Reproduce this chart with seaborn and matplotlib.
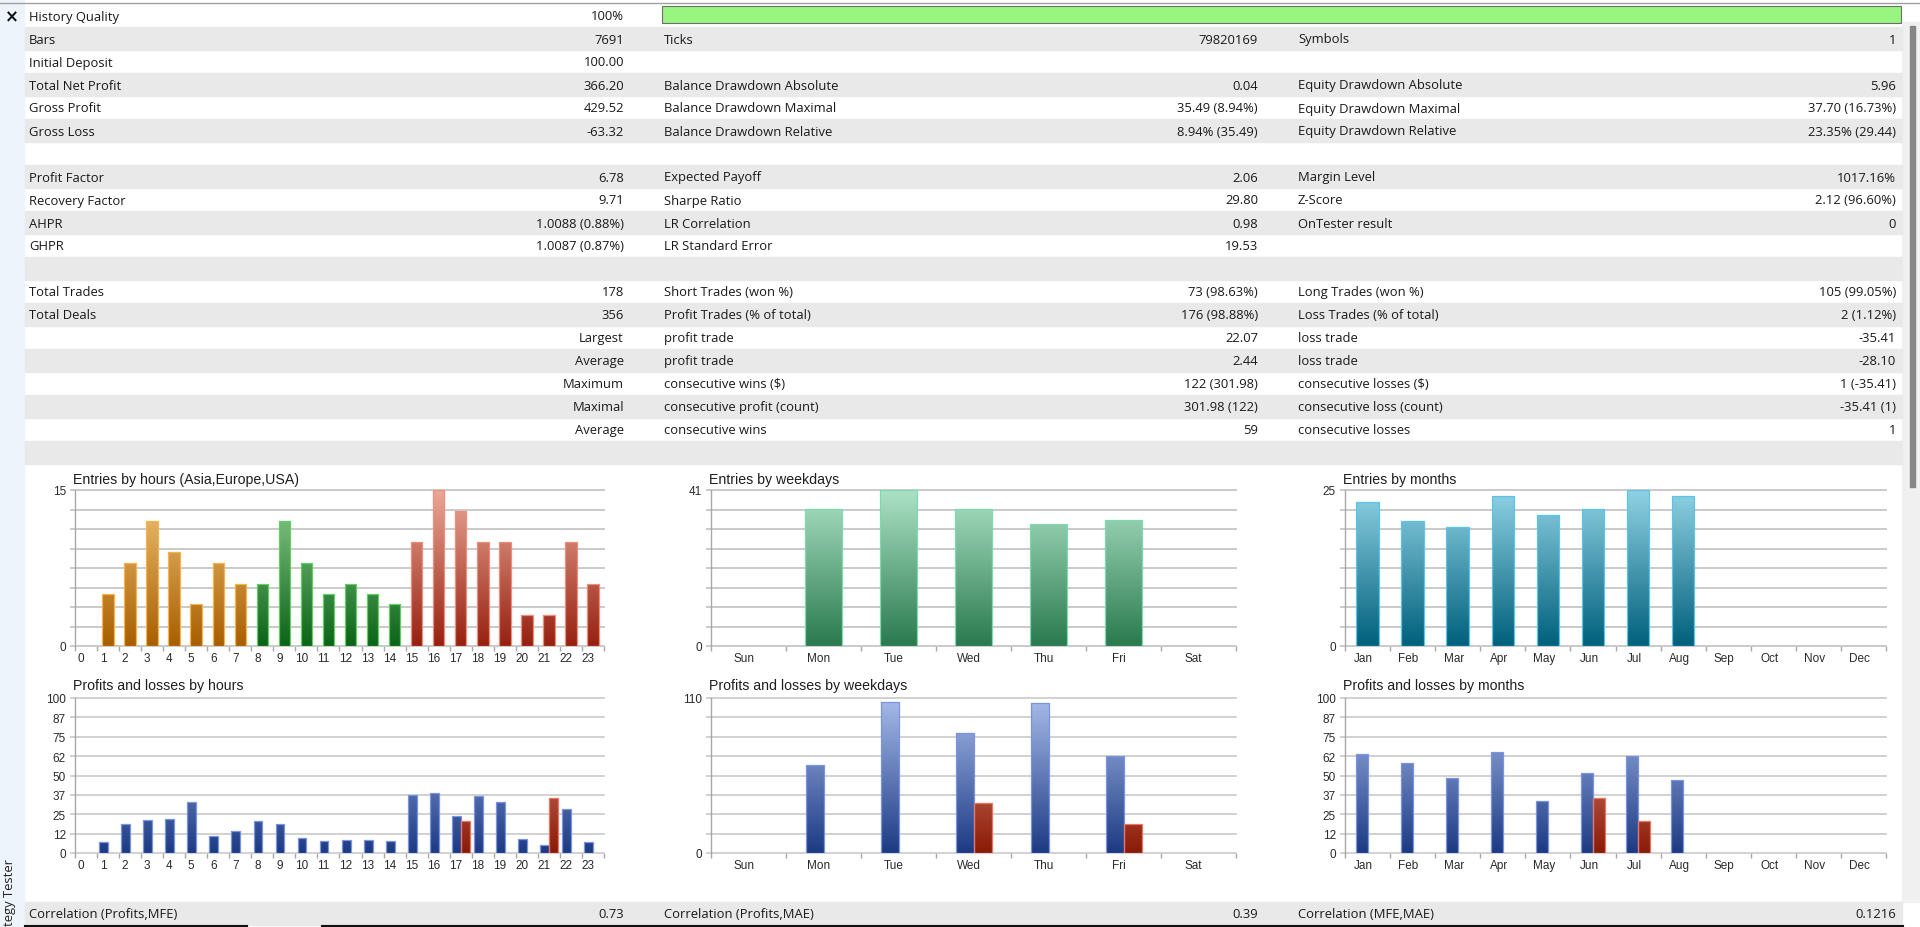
import numpy as np
import pandas as pd
import matplotlib
matplotlib.use("Agg")
import matplotlib.pyplot as plt
import seaborn as sns
from matplotlib.patches import Rectangle
from matplotlib.colors import to_rgb

# ------------------------------------------------------------------ data
col1_labels = ["History Quality", "Bars", "Initial Deposit", "Total Net Profit", "Gross Profit", "Gross Loss", "",
               "Profit Factor", "Recovery Factor", "AHPR", "GHPR", "",
               "Total Trades", "Total Deals", "", "", "", "", "", ""]
col1_values = ["100%", "7691", "100.00", "366.20", "429.52", "-63.32", "",
               "6.78", "9.71", "1.0088 (0.88%)", "1.0087 (0.87%)", "",
               "178", "356", "Largest", "Average", "Maximum", "Maximal", "Average", ""]
col2_labels = ["", "Ticks", "", "Balance Drawdown Absolute", "Balance Drawdown Maximal", "Balance Drawdown Relative", "",
               "Expected Payoff", "Sharpe Ratio", "LR Correlation", "LR Standard Error", "",
               "Short Trades (won %)", "Profit Trades (% of total)", "profit trade", "profit trade",
               "consecutive wins ($)", "consecutive profit (count)", "consecutive wins", ""]
col2_values = ["", "79820169", "", "0.04", "35.49 (8.94%)", "8.94% (35.49)", "",
               "2.06", "29.80", "0.98", "19.53", "",
               "73 (98.63%)", "176 (98.88%)", "22.07", "2.44", "122 (301.98)", "301.98 (122)", "59", ""]
col3_labels = ["", "Symbols", "", "Equity Drawdown Absolute", "Equity Drawdown Maximal", "Equity Drawdown Relative", "",
               "Margin Level", "Z-Score", "OnTester result", "", "",
               "Long Trades (won %)", "Loss Trades (% of total)", "loss trade", "loss trade",
               "consecutive losses ($)", "consecutive loss (count)", "consecutive losses", ""]
col3_values = ["", "1", "", "5.96", "37.70 (16.73%)", "23.35% (29.44)", "",
               "1017.16%", "2.12 (96.60%)", "0", "", "",
               "105 (99.05%)", "2 (1.12%)", "-35.41", "-28.10", "1 (-35.41)", "-35.41 (1)", "1", ""]
corr_labels = ["Correlation (Profits,MFE)", "Correlation (Profits,MAE)", "Correlation (MFE,MAE)"]
corr_values = ["0.73", "0.39", "0.1216"]
history_quality = 100
side_tab_text = "tegy Tester"

hour_labels = [str(h) for h in range(24)]
hour_session = ["Asia"] * 8 + ["Europe"] * 7 + ["USA"] * 9
entries_by_hour = [0, 5, 8, 12, 9, 4, 8, 6, 6, 12, 8, 5, 6, 5, 4, 10, 15, 13, 10, 10, 3, 3, 10, 6]
profit_by_hour = [0, 7.1, 18.5, 21.3, 21.9, 32.9, 11.2, 14.0, 20.6, 18.7, 9.5, 8.0, 8.2, 8.2, 8.0,
                  37.6, 38.7, 23.9, 37.0, 32.7, 9.0, 5.2, 28.4, 6.9]
loss_by_hour = [0, 0, 0, 0, 0, 0, 0, 0, 0, 0, 0, 0, 0, 0, 0, 0, 0, 20.6, 0, 0, 0, 35.5, 0, 0]

weekdays = ["Sun", "Mon", "Tue", "Wed", "Thu", "Fri", "Sat"]
entries_by_weekday = [0, 36, 41, 36, 32, 33, 0]
profit_by_weekday = [0, 62.7, 107.4, 84.9, 106.7, 68.8, 0]
loss_by_weekday = [0, 0, 0, 35.5, 0, 20.8, 0]

months = ["Jan", "Feb", "Mar", "Apr", "May", "Jun", "Jul", "Aug", "Sep", "Oct", "Nov", "Dec"]
entries_by_month = [23, 20, 19, 24, 21, 22, 25, 24, 0, 0, 0, 0]
profit_by_month = [63.9, 58.3, 48.2, 65.2, 33.5, 51.8, 62.8, 47.3, 0, 0, 0, 0]
loss_by_month = [0, 0, 0, 0, 0, 35.7, 20.6, 0, 0, 0, 0, 0]

ymax_entries_hour, ymax_entries_weekday, ymax_entries_month = 15, 41, 25
ymax_pl_hour, ymax_pl_weekday, ymax_pl_month = 100, 110, 100

# ------------------------------------------------------------------ styles
TABLE_FONT = ["Open Sans", "DejaVu Sans"]
CHART_FONT = ["Liberation Sans", "DejaVu Sans"]
plt.rcParams["font.family"] = CHART_FONT

# (mid colour used by seaborn, dark bottom, light top, edge)
STYLE = {
    "Asia":    ("#D08A20", "#A85E00", "#F2C57A", "#F7B449"),
    "Europe":  ("#3A8A3A", "#0A6418", "#90D090", "#66CC66"),
    "USA":     ("#C05040", "#962010", "#EBA898", "#F08C7C"),
    "Weekday": ("#4FA57A", "#2A7A4E", "#ACE2C6", "#7ED9AE"),
    "Month":   ("#3A98B0", "#00607C", "#90D2E4", "#5CC4E4"),
    "Profit":  ("#4F6FB0", "#1C3A84", "#A8BCEA", "#7A94E2"),
    "Loss":    ("#B04030", "#8A1A06", "#E8A090", "#EE7462"),
}

W, H = 1920, 928
fig = plt.figure(figsize=(W / 100, H / 100), dpi=100)
fig.patch.set_facecolor("white")
bg = fig.add_axes([0, 0, 1, 1], zorder=0)
bg.set_xlim(0, W)
bg.set_ylim(H, 0)
bg.axis("off")

# ------------------------------------------------------------------ frame
bg.add_patch(Rectangle((0, 0), 24, H, color="#EEF4FB", zorder=0))
bg.add_patch(Rectangle((1902, 23), 18, 880, color="#F0F0F0", zorder=0))
bg.add_patch(Rectangle((1910, 27), 5, 461, color="#868686", zorder=1))
bg.plot([0, W], [3.5, 3.5], color="#A0A0A0", lw=1.0, zorder=2)
bg.text(12, 17, "\u00d7", ha="center", va="center", fontsize=12, fontweight="bold",
        family=["DejaVu Sans"], color="#111111")
bg.text(10, 926, side_tab_text, rotation=90, ha="center", va="bottom", fontsize=9.4,
        family=TABLE_FONT, color="#222222")

ROW_TOP, ROW_H = 5, 23
for i in range(20):
    if i % 2 == 1:
        bg.add_patch(Rectangle((25, ROW_TOP + ROW_H * i), 1877, ROW_H, color="#E9E9E9", zorder=0))

cols = [(29, 624, col1_labels, col1_values),
        (664, 1258, col2_labels, col2_values),
        (1298, 1896, col3_labels, col3_values)]
tkw = dict(fontsize=9.4, family=TABLE_FONT, color="#1A1A1A", va="center")
for xl, xr, labs, vals in cols:
    for i, (lab, val) in enumerate(zip(labs, vals)):
        yc = ROW_TOP + ROW_H * i + ROW_H / 2 + 0.5
        if lab:
            bg.text(xl, yc, lab, ha="left", **tkw)
        if val:
            bg.text(xr, yc, val, ha="right", **tkw)

bg.add_patch(Rectangle((662, 7), (1901 - 662) * history_quality / 100, 17,
                       facecolor="#98F57F", edgecolor="#6E6E6E", lw=0.8, zorder=2))

# correlation row
bg.add_patch(Rectangle((25, 903), 1877, 23, color="#E9E9E9", zorder=0))
for (xl, xr, _, _), lab, val in zip(cols, corr_labels, corr_values):
    bg.text(xl, 915, lab, ha="left", **tkw)
    bg.text(xr, 915, val, ha="right", **tkw)
bg.plot([25, 247], [927, 927], color="#111111", lw=1.5, zorder=3)
bg.plot([322, 1903], [927, 927], color="#111111", lw=1.5, zorder=3)


# ------------------------------------------------------------------ charts
def add_px_axes(x0, x1, ytop, ybot):
    return fig.add_axes([x0 / W, 1 - ybot / H, (x1 - x0) / W, (ybot - ytop) / H], zorder=1)


def gradient_bars(ax, ymax):
    for p in list(ax.patches):
        fc = np.array(p.get_facecolor()[:3])
        key = min(STYLE, key=lambda k: np.abs(np.array(to_rgb(STYLE[k][0])) - fc).sum())
        _, dark, light, edge = STYLE[key]
        x0, w = p.get_x(), p.get_width()
        t = np.linspace(0, 1, 256)[:, None]
        grad = (np.array(to_rgb(dark)) * (1 - t) + np.array(to_rgb(light)) * t)[:, None, :]
        im = ax.imshow(grad, extent=(x0, x0 + w, 0, ymax), origin="lower", aspect="auto",
                       interpolation="bilinear", zorder=1.5)
        im.set_clip_path(p)
        p.set_facecolor("none")
        p.set_edgecolor(edge)
        p.set_linewidth(0.9)
        p.set_zorder(2)


def style_axes(ax, n, ymax, ylabels, xlabels, slot_px, shift_px, grid_lw):
    ax.set_facecolor("none")
    ax.set_xlim(-0.5, n - 0.5)
    ax.set_ylim(0, ymax)
    for s in ["top", "right", "bottom"]:
        ax.spines[s].set_visible(False)
    ax.spines["left"].set_color("#A8A8A8")
    ax.spines["left"].set_linewidth(1.0)
    ax.set_axisbelow(True)
    ax.set_yticks(np.linspace(0, ymax, 9))
    ax.set_yticklabels(ylabels)
    ax.yaxis.grid(True, color="#CACACA", linewidth=grid_lw)
    ax.xaxis.grid(False)
    ax.tick_params(axis="y", length=3.6, width=grid_lw, color="#CACACA", pad=3,
                   labelsize=8.5, labelcolor="#2A2A2A")
    ax.set_xticks(np.arange(-0.5, n, 1.0))
    ax.set_xticklabels([])
    ax.set_xticks(np.arange(n) - shift_px / slot_px, minor=True)
    ax.set_xticklabels(xlabels, minor=True)
    ax.tick_params(axis="x", which="major", length=3.6, width=1.0, color="#A8A8A8")
    ax.tick_params(axis="x", which="minor", length=0, pad=4, labelsize=8.5, labelcolor="#2A2A2A")
    ax.set_xlabel("")
    ax.set_ylabel("")
    for gl in ax.get_ygridlines():
        gl.set_clip_on(False)


def edge_labels(ymax):
    return ["0"] + [""] * 7 + [str(ymax)]


def step_labels(ymax):
    return [str(int(v)) for v in np.linspace(0, ymax, 9)]


title_kw = dict(fontsize=10.2, color="#1E1E1E", ha="left", va="center", family=CHART_FONT)

# Entries by hours
ax1 = add_px_axes(75, 604, 491, 647)
df_h = pd.DataFrame({"hour": hour_labels, "entries": entries_by_hour, "session": hour_session})
df_h = df_h[df_h["entries"] > 0]
sns.barplot(data=df_h, x="hour", y="entries", hue="session", order=hour_labels,
            hue_order=["Asia", "Europe", "USA"],
            palette={k: STYLE[k][0] for k in ["Asia", "Europe", "USA"]},
            dodge=False, width=0.52, saturation=1, errorbar=None, legend=False, ax=ax1)
gradient_bars(ax1, ymax_entries_hour)
style_axes(ax1, 24, ymax_entries_hour, edge_labels(ymax_entries_hour), hour_labels, 22, 5, 1.4)
bg.text(73, 480, "Entries by hours (Asia,Europe,USA)", **title_kw)

# Entries by weekdays
ax2 = add_px_axes(711, 1236, 491, 647)
df_w = pd.DataFrame({"day": weekdays, "entries": entries_by_weekday})
df_w = df_w[df_w["entries"] > 0]
sns.barplot(data=df_w, x="day", y="entries", order=weekdays, color=STYLE["Weekday"][0],
            width=0.5, saturation=1, errorbar=None, ax=ax2)
gradient_bars(ax2, ymax_entries_weekday)
style_axes(ax2, 7, ymax_entries_weekday, edge_labels(ymax_entries_weekday), weekdays, 75, 5, 1.4)
bg.text(709, 480, "Entries by weekdays", **title_kw)

# Entries by months
ax3 = add_px_axes(1345, 1886, 491, 647)
df_m = pd.DataFrame({"month": months, "entries": entries_by_month})
df_m = df_m[df_m["entries"] > 0]
sns.barplot(data=df_m, x="month", y="entries", order=months, color=STYLE["Month"][0],
            width=0.5, saturation=1, errorbar=None, ax=ax3)
gradient_bars(ax3, ymax_entries_month)
style_axes(ax3, 12, ymax_entries_month, edge_labels(ymax_entries_month), months, 45, 4, 1.4)
bg.text(1343, 480, "Entries by months", **title_kw)


def pl_frame(cats, profits, losses):
    rows = []
    for c, p, l in zip(cats, profits, losses):
        if p > 0:
            rows.append((c, p, "Profit"))
        if l > 0:
            rows.append((c, l, "Loss"))
    return pd.DataFrame(rows, columns=["cat", "value", "kind"])


pl_palette = {"Profit": STYLE["Profit"][0], "Loss": STYLE["Loss"][0]}

# Profits and losses by hours
ax4 = add_px_axes(75, 604, 699, 854)
sns.barplot(data=pl_frame(hour_labels, profit_by_hour, loss_by_hour), x="cat", y="value",
            hue="kind", order=hour_labels, hue_order=["Profit", "Loss"], palette=pl_palette,
            dodge=True, width=0.8, saturation=1, errorbar=None, legend=False, ax=ax4)
gradient_bars(ax4, ymax_pl_hour)
style_axes(ax4, 24, ymax_pl_hour, step_labels(ymax_pl_hour), hour_labels, 22, 5, 1.2)
bg.text(73, 686, "Profits and losses by hours", **title_kw)

# Profits and losses by weekdays
ax5 = add_px_axes(711, 1236, 699, 854)
sns.barplot(data=pl_frame(weekdays, profit_by_weekday, loss_by_weekday), x="cat", y="value",
            hue="kind", order=weekdays, hue_order=["Profit", "Loss"], palette=pl_palette,
            dodge=True, width=0.48, saturation=1, errorbar=None, legend=False, ax=ax5)
gradient_bars(ax5, ymax_pl_weekday)
style_axes(ax5, 7, ymax_pl_weekday, edge_labels(ymax_pl_weekday), weekdays, 75, 5, 1.2)
bg.text(709, 686, "Profits and losses by weekdays", **title_kw)

# Profits and losses by months
ax6 = add_px_axes(1345, 1886, 699, 854)
sns.barplot(data=pl_frame(months, profit_by_month, loss_by_month), x="cat", y="value",
            hue="kind", order=months, hue_order=["Profit", "Loss"], palette=pl_palette,
            dodge=True, width=0.52, saturation=1, errorbar=None, legend=False, ax=ax6)
gradient_bars(ax6, ymax_pl_month)
style_axes(ax6, 12, ymax_pl_month, step_labels(ymax_pl_month), months, 45, 4, 1.2)
bg.text(1343, 686, "Profits and losses by months", **title_kw)

fig.savefig("out.png", dpi=100, facecolor="white")
